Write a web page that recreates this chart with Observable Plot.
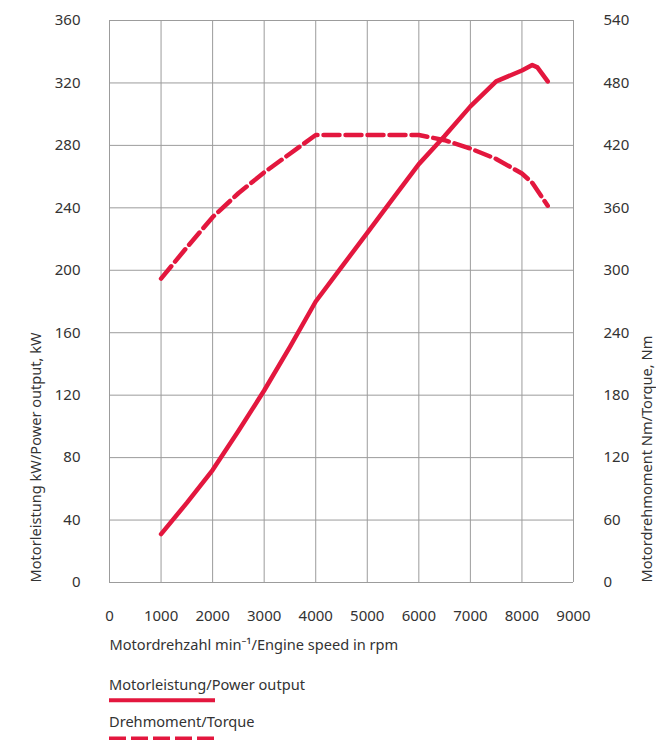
<!DOCTYPE html>
<html><head><meta charset="utf-8">
<script src="https://cdn.jsdelivr.net/npm/d3@7"></script>
<script src="https://cdn.jsdelivr.net/npm/@observablehq/plot@0.6"></script>
<style>
body{margin:0;background:#fff;font-family:"Noto Sans",sans-serif;}
#wrap{position:relative;width:656px;height:740px;overflow:hidden;background:#fff}
#legend{position:absolute;left:0;top:660px}
</style></head><body><div id="wrap"></div>
<script>
// Engine speed (rpm) and power output (kW)
const rpmPower = [1000, 1500, 2000, 2500, 3000, 3500, 4000, 4500, 5000, 5500, 6000, 6500, 7000, 7500, 8000, 8200, 8300, 8500];
const powerKW  = [31, 51, 72, 97, 123, 151, 180, 202, 224, 246, 268, 286, 305, 321, 328, 331.5, 330, 321];
// Engine speed (rpm) and torque (Nm)
const rpmTorque = [1000, 1500, 2000, 2500, 3000, 3500, 4000, 5000, 6000, 6500, 7000, 7500, 8000, 8200, 8500];
const torqueNm  = [292, 322, 351, 374, 394, 412, 430, 430, 430, 425, 417, 407, 393, 384, 362];
// Tick labels
const xTicks  = [0, 1000, 2000, 3000, 4000, 5000, 6000, 7000, 8000, 9000];
const kwTicks = [0, 40, 80, 120, 160, 200, 240, 280, 320, 360];
const nmTicks = [0, 60, 120, 180, 240, 300, 360, 420, 480, 540];
const xTitle = "Motordrehzahl min\u207B\u00B9/Engine speed in rpm";
const yLeftTitle = "Motorleistung kW/Power output, kW";
const yRightTitle = "Motordrehmoment Nm/Torque, Nm";
const legendPower = "Motorleistung/Power output";
const legendTorque = "Drehmoment/Torque";

const red = "#e3173e";
const grid = "#9c9c9c";
const ink = "#333";
const tickFs = 15;
const titleFs = 14.6;
const ratio = kwTicks[kwTicks.length - 1] / nmTicks[nmTicks.length - 1];

const power = rpmPower.map((r, i) => ({rpm: r, v: powerKW[i]}));
const torque = rpmTorque.map((r, i) => ({rpm: r, v: torqueNm[i] * ratio}));

const chart = Plot.plot({
  width: 656,
  height: 660,
  marginLeft: 109,
  marginRight: 83,
  marginTop: 20,
  marginBottom: 78,
  style: {fontFamily: "'Noto Sans', sans-serif", fontSize: "14px", color: ink, background: "#fff"},
  x: {domain: [0, 9000]},
  y: {domain: [0, 360]},
  marks: [
    Plot.gridX(xTicks, {stroke: grid, strokeOpacity: 1, strokeWidth: 1}),
    Plot.gridY(kwTicks, {stroke: grid, strokeOpacity: 1, strokeWidth: 1}),
    Plot.axisX(xTicks, {tickSize: 0, tickPadding: 28, label: null, fill: ink, fontSize: tickFs, tickFormat: d => String(d)}),
    Plot.axisY(kwTicks, {anchor: "left", tickSize: 0, tickPadding: 29, label: null, fill: ink, fontSize: tickFs, tickFormat: d => String(d)}),
    Plot.axisY(kwTicks, {anchor: "right", tickSize: 0, tickPadding: 30, label: null, fill: ink, fontSize: tickFs,
      tickFormat: d => String(nmTicks[kwTicks.indexOf(d)])}),
    Plot.text([xTitle], {frameAnchor: "bottom-left", dy: 62.5, textAnchor: "start", lineAnchor: "middle", fill: ink, fontSize: titleFs}),
    Plot.text([yLeftTitle], {frameAnchor: "bottom-left", dx: -73.5, rotate: -90, textAnchor: "start", lineAnchor: "middle", fill: ink, fontSize: titleFs}),
    Plot.text([yRightTitle], {frameAnchor: "bottom-right", dx: 74, rotate: -90, textAnchor: "start", lineAnchor: "middle", fill: ink, fontSize: titleFs}),
    Plot.line(torque, {x: "rpm", y: "v", stroke: red, strokeWidth: 4.5, strokeDasharray: "16,6", strokeLinejoin: "round"}),
    Plot.line(power, {x: "rpm", y: "v", stroke: red, strokeWidth: 4.5, strokeLinejoin: "round"})
  ]
});
const wrap = document.getElementById("wrap");
wrap.appendChild(chart);

// Legend below the chart
const leg = d3.select(wrap).append("svg").attr("id", "legend").attr("width", 656).attr("height", 80)
  .style("font-family", "'Noto Sans', sans-serif").style("font-size", titleFs + "px");
const items = [
  {label: legendPower, dash: null, ty: 30, ly: 40.3},
  {label: legendTorque, dash: "17,5", ty: 67.3, ly: 78.5}
];
items.forEach(it => {
  leg.append("text").attr("x", 109).attr("y", it.ty).attr("fill", ink).text(it.label);
  leg.append("line").attr("x1", 109).attr("x2", 215).attr("y1", it.ly).attr("y2", it.ly)
    .attr("stroke", red).attr("stroke-width", 4).attr("stroke-dasharray", it.dash);
});
</script></body></html>
